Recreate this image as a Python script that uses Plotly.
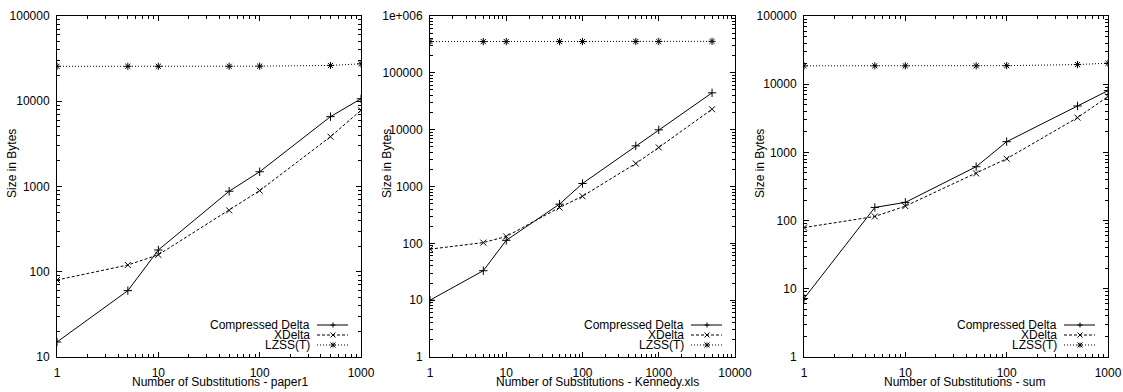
import plotly.graph_objects as go

# ---------------- data ----------------
series_names = ["Compressed Delta", "XDelta", "LZSS(T)"]

x_paper1 = [1, 5, 10, 50, 100, 500, 1000]
paper1_compressed = [15, 60, 180, 880, 1490, 6600, 10700]
paper1_xdelta = [80, 120, 158, 525, 895, 3840, 7830]
paper1_lzss = [25700, 25700, 25700, 25700, 25800, 26300, 27500]

x_kennedy = [1, 5, 10, 50, 100, 500, 1000, 5000]
kennedy_compressed = [10, 33, 113, 490, 1130, 5190, 9930, 44500]
kennedy_xdelta = [79, 103, 132, 427, 674, 2540, 4860, 22900]
kennedy_lzss = [355000, 355000, 355000, 355000, 355000, 356000, 356000, 358000]

x_sum = [1, 5, 10, 50, 100, 500, 1000]
sum_compressed = [7.2, 156, 185, 617, 1436, 4800, 8050]
sum_xdelta = [79, 115, 163, 492, 807, 3230, 6600]
sum_lzss = [18600, 18600, 18600, 18600, 18700, 19400, 20300]

x_titles = ["Number of Substitutions - paper1",
            "Number of Substitutions - Kennedy.xls",
            "Number of Substitutions - sum"]
y_title = "Size in Bytes"

x_ticks = [[1, 10, 100, 1000], [1, 10, 100, 1000, 10000], [1, 10, 100, 1000]]
x_ticklabels = [["1", "10", "100", "1000"], ["1", "10", "100", "1000", "10000"],
                ["1", "10", "100", "1000"]]
y_ticks = [[10, 100, 1000, 10000, 100000],
           [1, 10, 100, 1000, 10000, 100000, 1000000],
           [1, 10, 100, 1000, 10000, 100000]]
y_ticklabels = [["10", "100", "1000", "10000", "100000"],
                ["1", "10", "100", "1000", "10000", "100000", "1e+006"],
                ["1", "10", "100", "1000", "10000", "100000"]]
x_ranges = [[0, 3], [0, 4], [0, 3]]
y_ranges = [[1, 5], [0, 6], [0, 5]]

panels = [
    (x_paper1, [paper1_compressed, paper1_xdelta, paper1_lzss]),
    (x_kennedy, [kennedy_compressed, kennedy_xdelta, kennedy_lzss]),
    (x_sum, [sum_compressed, sum_xdelta, sum_lzss]),
]

# ---------------- layout geometry (pixels) ----------------
W, H = 1123, 392
plot_x = [(57, 361), (430, 735), (804, 1108)]
plot_y = (16, 357)  # top, bottom
ytitle_x = [12, 387, 760]
ytitle_y = 164
xtitle_cx = [220, 597, 964]
xtitle_y = 382

def px(x):
    return x / W

def py(y):
    return 1 - y / H

FONT = "Liberation Sans, Arial, sans-serif"
styles = [
    dict(dash="solid", symbol="cross-thin-open"),
    dict(dash="3px,2px", symbol="x-thin-open"),
    dict(dash="1px,2px", symbol="asterisk-open"),
]

fig = go.Figure()
shapes = []
annotations = []

for i, (xs, ys_list) in enumerate(panels):
    xa = "x" if i == 0 else f"x{i+1}"
    ya = "y" if i == 0 else f"y{i+1}"
    for name, ys, st in zip(series_names, ys_list, styles):
        fig.add_trace(go.Scatter(
            x=xs, y=ys, xaxis=xa, yaxis=ya, mode="lines+markers", name=name,
            showlegend=False,
            line=dict(color="black", width=1, dash=st["dash"]),
            marker=dict(symbol=st["symbol"], size=6, color="black",
                        line=dict(color="black", width=1)),
        ))
    x0, x1 = plot_x[i]
    axis_common = dict(type="log", showgrid=False, zeroline=False,
                       automargin=False,
                       showline=True, linecolor="black", linewidth=1,
                       mirror="allticks", ticks="inside", ticklen=5,
                       tickcolor="black", tickwidth=1,
                       tickfont=dict(family=FONT, size=12, color="black"),
                       minor=dict(ticks="inside", ticklen=3, dtick="D1",
                                  tickcolor="black", showgrid=False))
    xkey = "xaxis" if i == 0 else f"xaxis{i+1}"
    ykey = "yaxis" if i == 0 else f"yaxis{i+1}"
    fig.update_layout(**{
        xkey: dict(axis_common, domain=[px(x0), px(x1)], anchor=ya,
                   range=x_ranges[i], tickvals=x_ticks[i],
                   ticktext=x_ticklabels[i], ticklabelstandoff=5),
        ykey: dict(axis_common, domain=[py(plot_y[1]), py(plot_y[0])],
                   anchor=xa, range=y_ranges[i], tickvals=y_ticks[i],
                   ticktext=y_ticklabels[i], ticklabelstandoff=4),
    })
    # titles
    annotations.append(dict(text=x_titles[i], xref="paper", yref="paper",
                            x=px(xtitle_cx[i]), y=py(xtitle_y),
                            xanchor="center", yanchor="middle", showarrow=False,
                            font=dict(family=FONT, size=12, color="black")))
    annotations.append(dict(text=y_title, xref="paper", yref="paper",
                            x=px(ytitle_x[i]), y=py(ytitle_y), textangle=-90,
                            xanchor="center", yanchor="middle", showarrow=False,
                            font=dict(family=FONT, size=12, color="black")))
    # custom gnuplot-like legend (text right, sample line on the right)
    row_y = [325, 335, 345]
    for name, st, ry in zip(series_names, styles, row_y):
        annotations.append(dict(text=name, xref="paper", yref="paper",
                                x=px(x1 - 49), y=py(ry), xanchor="right",
                                yanchor="middle", showarrow=False,
                                font=dict(family=FONT, size=12, color="black")))
        shapes.append(dict(type="line", xref="paper", yref="paper",
                           x0=px(x1 - 44), x1=px(x1 - 13), y0=py(ry), y1=py(ry),
                           line=dict(color="black", width=1, dash=st["dash"])))
        mx = px(x1 - 28)
        if st["symbol"].startswith("cross"):
            path = "M-2.5,0 L2.5,0 M0,-2.5 L0,2.5"
        elif st["symbol"].startswith("x-"):
            path = "M-2.5,-2.5 L2.5,2.5 M-2.5,2.5 L2.5,-2.5"
        else:
            path = ("M-2.5,0 L2.5,0 M0,-2.5 L0,2.5 "
                    "M-2.5,-2.5 L2.5,2.5 M-2.5,2.5 L2.5,-2.5")
        shapes.append(dict(type="path", xref="paper", yref="paper",
                           xsizemode="pixel", ysizemode="pixel",
                           xanchor=mx, yanchor=py(ry), path=path,
                           line=dict(color="black", width=1)))

fig.update_layout(width=W, height=H, margin=dict(l=0, r=0, t=0, b=0),
                  paper_bgcolor="white", plot_bgcolor="white",
                  shapes=shapes, annotations=annotations, showlegend=False)
fig.write_html("out.html", config={"displayModeBar": False},
               post_script="document.body.style.margin='0';"
                           "document.body.style.overflow='hidden';")
